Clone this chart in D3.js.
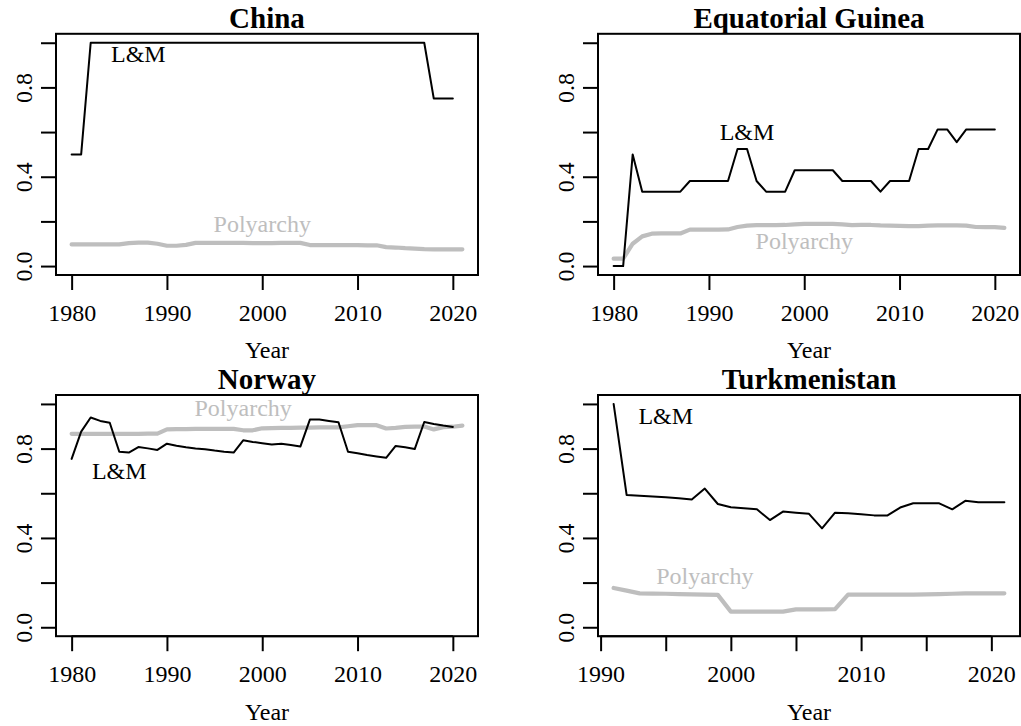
<!DOCTYPE html>
<html>
<head>
<meta charset="utf-8">
<script src="https://cdn.jsdelivr.net/npm/d3@7"></script>
<style>
  html, body { margin: 0; padding: 0; background: #fff; }
  svg { display: block; }
  text { font-family: "Liberation Serif", "Times New Roman", serif; }
</style>
</head>
<body>
<svg id="chart" width="1021" height="726"></svg>
<script>
// Panel titles
const countries = ["China", "Equatorial Guinea", "Norway", "Turkmenistan"];

// China
const chinaStart = 1980;
const chinaLM = [0.5, 0.5, 1, 1, 1, 1, 1, 1, 1, 1, 1, 1, 1, 1, 1, 1, 1, 1, 1, 1,
  1, 1, 1, 1, 1, 1, 1, 1, 1, 1, 1, 1, 1, 1, 1, 1, 1, 1, 0.75, 0.75, 0.75];
const chinaPoly = [0.097, 0.097, 0.097, 0.097, 0.097, 0.097, 0.103, 0.105, 0.105, 0.100,
  0.091, 0.091, 0.095, 0.104, 0.104, 0.104, 0.104, 0.104, 0.104, 0.103, 0.103, 0.103,
  0.104, 0.104, 0.104, 0.094, 0.094, 0.094, 0.094, 0.094, 0.094, 0.093, 0.093, 0.085,
  0.083, 0.080, 0.078, 0.076, 0.075, 0.075, 0.075, 0.075];

// Equatorial Guinea
const guineaStart = 1980;
const guineaLM = [0, 0, 0.5, 0.333, 0.333, 0.333, 0.333, 0.333, 0.381, 0.381, 0.381,
  0.381, 0.381, 0.524, 0.524, 0.381, 0.333, 0.333, 0.333, 0.429, 0.429, 0.429, 0.429,
  0.429, 0.381, 0.381, 0.381, 0.381, 0.333, 0.381, 0.381, 0.381, 0.524, 0.524, 0.612,
  0.612, 0.555, 0.612, 0.612, 0.612, 0.612];
const guineaPoly = [0.033, 0.033, 0.10, 0.133, 0.145, 0.146, 0.146, 0.146, 0.163, 0.163,
  0.163, 0.163, 0.164, 0.175, 0.181, 0.183, 0.183, 0.183, 0.184, 0.187, 0.189, 0.189,
  0.189, 0.189, 0.187, 0.183, 0.184, 0.184, 0.182, 0.181, 0.180, 0.179, 0.179, 0.181,
  0.182, 0.182, 0.182, 0.181, 0.175, 0.174, 0.174, 0.171];

// Norway
const norwayStart = 1980;
const norwayLM = [0.754, 0.876, 0.939, 0.924, 0.916, 0.786, 0.782, 0.807, 0.801, 0.794,
  0.822, 0.813, 0.806, 0.800, 0.797, 0.791, 0.786, 0.782, 0.837, 0.830, 0.824, 0.818,
  0.822, 0.816, 0.809, 0.930, 0.930, 0.924, 0.918, 0.786, 0.779, 0.771, 0.765, 0.759,
  0.812, 0.806, 0.798, 0.919, 0.910, 0.903, 0.897];
const norwayPoly = [0.866, 0.866, 0.866, 0.866, 0.866, 0.866, 0.866, 0.866, 0.867, 0.867,
  0.886, 0.887, 0.887, 0.888, 0.888, 0.888, 0.888, 0.888, 0.882, 0.882, 0.891, 0.892,
  0.893, 0.893, 0.894, 0.894, 0.895, 0.895, 0.895, 0.900, 0.905, 0.905, 0.905, 0.890,
  0.893, 0.897, 0.898, 0.899, 0.886, 0.896, 0.898, 0.903];

// Turkmenistan
const turkStart = 1991;
const turkLM = [1.0, 0.592, 0.589, 0.586, 0.582, 0.578, 0.572, 0.621, 0.552, 0.537,
  0.533, 0.528, 0.480, 0.518, 0.513, 0.508, 0.443, 0.513, 0.510, 0.506, 0.501, 0.500,
  0.536, 0.555, 0.555, 0.555, 0.528, 0.566, 0.560, 0.560, 0.560];
const turkPoly = [0.176, 0.164, 0.152, 0.151, 0.150, 0.148, 0.147, 0.146, 0.145, 0.070,
  0.070, 0.070, 0.070, 0.070, 0.080, 0.080, 0.080, 0.081, 0.146, 0.146, 0.146, 0.146,
  0.146, 0.146, 0.147, 0.148, 0.150, 0.152, 0.152, 0.152, 0.152];

// In-plot series labels: [year, value] anchors (centre of the text)
const lmLabelPos = [[1987, 0.95], [1994, 0.6], [1985, 0.7], [1995, 0.945]];
const polyLabelPos = [[2000, 0.19], [2000, 0.11], [1998, 0.98], [1998, 0.23]];

// Axis ticks
const yTicks = [0, 0.2, 0.4, 0.6, 0.8, 1.0];
const yTickLabels = ["0.0", "0.4", "0.8"];
const xTicksWide = [1980, 1990, 2000, 2010, 2020];
const xTicksTurk = [1990, 1995, 2000, 2005, 2010, 2015, 2020];
const xTickLabelsTurk = [1990, 2000, 2010, 2020];

const panels = [
  { title: countries[0], start: chinaStart, lm: chinaLM, poly: chinaPoly, ticks: xTicksWide, labels: xTicksWide },
  { title: countries[1], start: guineaStart, lm: guineaLM, poly: guineaPoly, ticks: xTicksWide, labels: xTicksWide },
  { title: countries[2], start: norwayStart, lm: norwayLM, poly: norwayPoly, ticks: xTicksWide, labels: xTicksWide },
  { title: countries[3], start: turkStart, lm: turkLM, poly: turkPoly, ticks: xTicksTurk, labels: xTickLabelsTurk }
];

const svg = d3.select("#chart");

const boxW = 422, boxH = 241.2;
const lefts = [56, 598];
const tops = [33.8, 395];
const axisFont = 24, titleFont = 29;
const grey = "#bebebe";

panels.forEach((p, i) => {
  const x0 = lefts[i % 2], y0 = tops[Math.floor(i / 2)];
  const g = svg.append("g").attr("transform", `translate(${x0},${y0})`);

  const lmData = p.lm.map((v, k) => ({ year: p.start + k, v }));
  const polyData = p.poly.map((v, k) => ({ year: p.start + k, v }));
  const allYears = lmData.concat(polyData).map(d => d.year);
  const [ymin, ymax] = d3.extent(allYears);
  const pad = (ymax - ymin) * 0.04;

  const x = d3.scaleLinear().domain([ymin - pad, ymax + pad]).range([0, boxW]);
  const y = d3.scaleLinear().domain([-0.04, 1.04]).range([boxH, 0]);

  const line = d3.line().x(d => x(d.year)).y(d => y(d.v));

  // Polyarchy series (thick grey)
  g.append("path")
    .datum(polyData)
    .attr("d", line)
    .attr("fill", "none")
    .attr("stroke", grey)
    .attr("stroke-width", 4.2)
    .attr("stroke-linejoin", "round")
    .attr("stroke-linecap", "round");

  // L&M series (thin black)
  g.append("path")
    .datum(lmData)
    .attr("d", line)
    .attr("fill", "none")
    .attr("stroke", "#000")
    .attr("stroke-width", 2)
    .attr("stroke-linejoin", "round")
    .attr("stroke-linecap", "round");

  // Series labels
  const lp = lmLabelPos[i], pp = polyLabelPos[i];
  g.append("text")
    .attr("x", x(lp[0])).attr("y", y(lp[1]) + 8)
    .attr("text-anchor", "middle")
    .attr("font-size", axisFont)
    .attr("fill", "#000")
    .text("L&M");
  g.append("text")
    .attr("x", x(pp[0])).attr("y", y(pp[1]) + 8)
    .attr("text-anchor", "middle")
    .attr("font-size", axisFont)
    .attr("fill", grey)
    .text("Polyarchy");

  // Plot box
  g.append("rect")
    .attr("x", 0).attr("y", 0)
    .attr("width", boxW).attr("height", boxH)
    .attr("fill", "none")
    .attr("stroke", "#000")
    .attr("stroke-width", 2);

  // Bottom axis
  const xAxis = d3.axisBottom(x)
    .tickValues(p.ticks)
    .tickSize(15)
    .tickSizeOuter(0)
    .tickFormat(d => p.labels.includes(d) ? String(d) : "");
  const gx = g.append("g").attr("transform", `translate(0,${boxH})`).call(xAxis);
  gx.select(".domain")
    .attr("d", `M${x(p.ticks[0])},0H${x(p.ticks[p.ticks.length - 1])}`)
    .attr("stroke-width", 2);
  gx.selectAll(".tick line").attr("stroke-width", 2);
  gx.selectAll(".tick text")
    .attr("font-family", "Liberation Serif, serif")
    .attr("font-size", axisFont)
    .attr("fill", "#000")
    .attr("dy", null)
    .attr("y", 45.5);

  // Left axis
  const yAxis = d3.axisLeft(y)
    .tickValues(yTicks)
    .tickSize(15)
    .tickSizeOuter(0)
    .tickFormat(d => {
      const s = d3.format(".1f")(d);
      return yTickLabels.includes(s) ? s : "";
    });
  const gy = g.append("g").call(yAxis);
  gy.select(".domain")
    .attr("d", `M0,${y(yTicks[0])}V${y(yTicks[yTicks.length - 1])}`)
    .attr("stroke-width", 2);
  gy.selectAll(".tick line").attr("stroke-width", 2);
  gy.selectAll(".tick text")
    .attr("font-family", "Liberation Serif, serif")
    .attr("font-size", axisFont)
    .attr("fill", "#000")
    .attr("x", null).attr("dy", null)
    .attr("text-anchor", "middle")
    .attr("transform", "translate(-24.5,0) rotate(-90)");

  // Axis title
  g.append("text")
    .attr("x", boxW / 2).attr("y", boxH + 83.5)
    .attr("text-anchor", "middle")
    .attr("font-size", axisFont)
    .text("Year");

  // Panel title
  g.append("text")
    .attr("x", boxW / 2).attr("y", -6)
    .attr("text-anchor", "middle")
    .attr("font-size", titleFont)
    .attr("font-weight", "bold")
    .text(p.title);
});
</script>
</body>
</html>
